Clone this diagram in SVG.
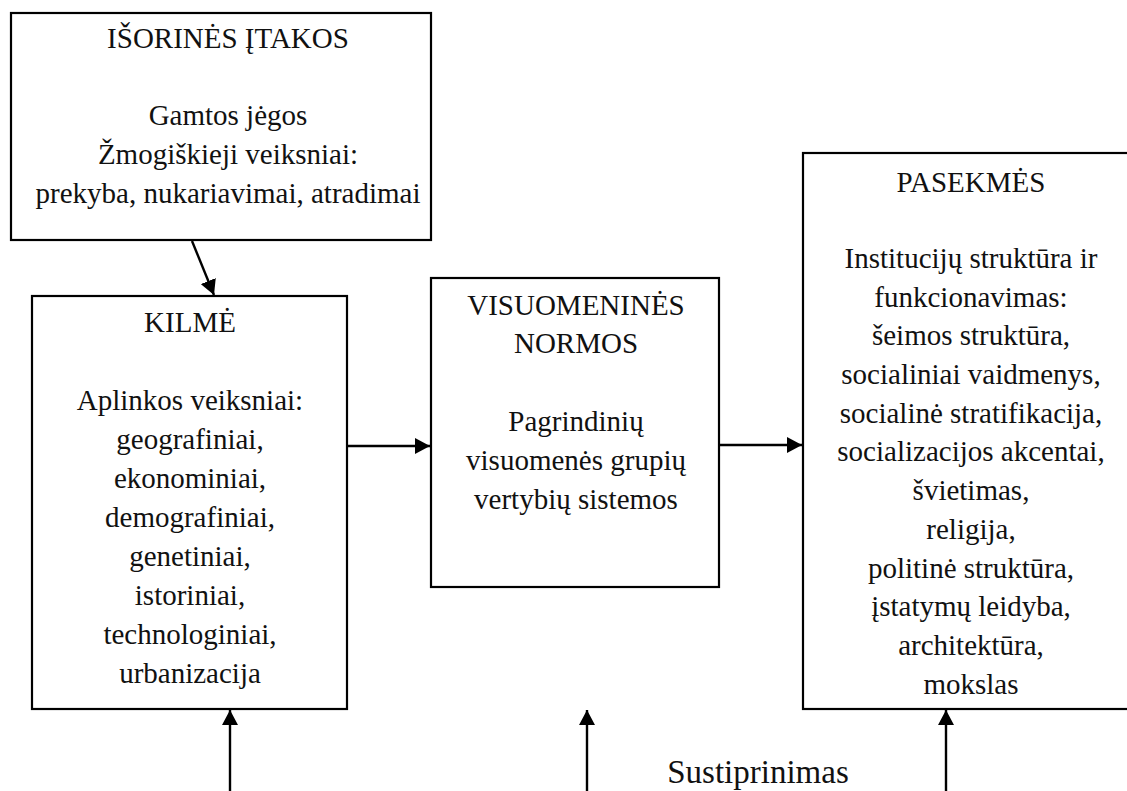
<svg xmlns="http://www.w3.org/2000/svg" width="1127" height="791" viewBox="0 0 1127 791">
<style>
.box{fill:#fff;stroke:#000;stroke-width:2.2}
.t{font-family:"Liberation Serif","Times New Roman",serif;font-size:29px;fill:#111;text-anchor:middle}
.big{font-size:33px}
.con{stroke:#000;stroke-width:2.4;fill:none;marker-end:url(#ah)}
</style>
<defs>
<marker id="ah" markerUnits="userSpaceOnUse" markerWidth="16" markerHeight="16" refX="15" refY="8" orient="auto" viewBox="0 0 16 16">
<path d="M0,0 L15,8 L0,16 z" fill="#000"/>
</marker>
</defs>
<rect width="1127" height="791" fill="#fff"/>
<g id="isorines">
<rect class="box" x="11" y="13" width="420" height="227"/>
<text class="t" x="228" y="48">IŠORINĖS ĮTAKOS</text>
<text class="t" x="228" y="125">Gamtos jėgos</text>
<text class="t" x="228" y="164">Žmogiškieji veiksniai:</text>
<text class="t" x="228" y="203">prekyba, nukariavimai, atradimai</text>
</g>
<g id="kilme">
<rect class="box" x="32" y="296" width="315" height="413"/>
<text class="t" x="190" y="332">KILMĖ</text>
<text class="t" x="190" y="410">Aplinkos veiksniai:</text>
<text class="t" x="190" y="449">geografiniai,</text>
<text class="t" x="190" y="488">ekonominiai,</text>
<text class="t" x="190" y="527">demografiniai,</text>
<text class="t" x="190" y="566">genetiniai,</text>
<text class="t" x="190" y="605">istoriniai,</text>
<text class="t" x="190" y="644">technologiniai,</text>
<text class="t" x="190" y="683">urbanizacija</text>
</g>
<g id="normos">
<rect class="box" x="431" y="278" width="288" height="309"/>
<text class="t" x="576" y="315">VISUOMENINĖS</text>
<text class="t" x="576" y="353">NORMOS</text>
<text class="t" x="576" y="431">Pagrindinių</text>
<text class="t" x="576" y="470">visuomenės grupių</text>
<text class="t" x="576" y="509">vertybių sistemos</text>
</g>
<g id="pasekmes">
<rect class="box" x="803" y="153" width="338" height="556"/>
<text class="t" x="971" y="192">PASEKMĖS</text>
<text class="t" x="971" y="268">Institucijų struktūra ir</text>
<text class="t" x="971" y="307">funkcionavimas:</text>
<text class="t" x="971" y="345">šeimos struktūra,</text>
<text class="t" x="971" y="384">socialiniai vaidmenys,</text>
<text class="t" x="971" y="423">socialinė stratifikacija,</text>
<text class="t" x="971" y="461">socializacijos akcentai,</text>
<text class="t" x="971" y="500">švietimas,</text>
<text class="t" x="971" y="539">religija,</text>
<text class="t" x="971" y="578">politinė struktūra,</text>
<text class="t" x="971" y="616">įstatymų leidyba,</text>
<text class="t" x="971" y="655">architektūra,</text>
<text class="t" x="971" y="694">mokslas</text>
</g>
<g id="label">
<text class="t big" x="758" y="783">Sustiprinimas</text>
</g>
<g id="connectors">
<line class="con" x1="192" y1="241" x2="214" y2="295"/>
<line class="con" x1="347" y1="446" x2="430" y2="446"/>
<line class="con" x1="719" y1="445" x2="802" y2="445"/>
<line class="con" x1="230" y1="791" x2="230" y2="710"/>
<line class="con" x1="587" y1="791" x2="587" y2="710"/>
<line class="con" x1="946" y1="791" x2="946" y2="710"/>
</g>
</svg>
